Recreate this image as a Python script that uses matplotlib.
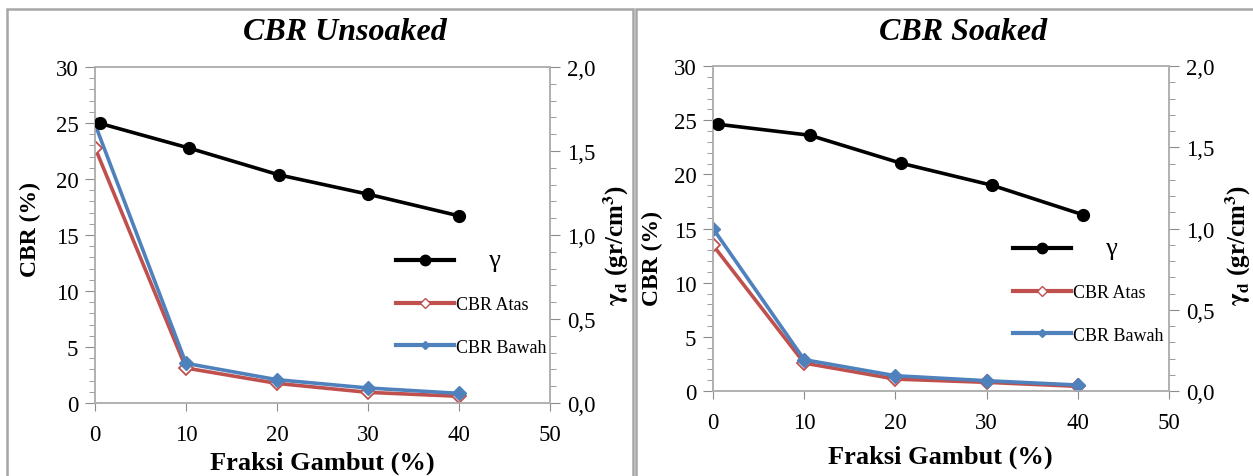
import numpy as np
import matplotlib
matplotlib.use("Agg")
import matplotlib.pyplot as plt
from matplotlib.patches import Rectangle
from matplotlib.lines import Line2D
from matplotlib.ticker import MultipleLocator, FuncFormatter

plt.rcParams['font.family'] = ['Liberation Serif', 'DejaVu Serif']
plt.rcParams['mathtext.fontset'] = 'stix'

# data
fraksi = [0, 10, 20, 30, 40]

# CBR Unsoaked
gamma_x_uns = [0.5, 10.3, 20.2, 30, 40]
gamma_uns = [1.665, 1.518, 1.358, 1.243, 1.114]
atas_uns = [22.8, 3.12, 1.75, 0.95, 0.6]
bawah_uns = [24.9, 3.54, 2.08, 1.34, 0.86]

# CBR Soaked
gamma_x_soak = [0.6, 10.6, 20.6, 30.6, 40.6]
gamma_soak = [1.641, 1.574, 1.402, 1.266, 1.084]
atas_soak = [13.46, 2.58, 1.1, 0.8, 0.43]
bawah_soak = [15.0, 2.89, 1.41, 0.95, 0.55]

W, H = 1253, 477
fig = plt.figure(figsize=(W / 100, H / 100), dpi=100)

# panel frames
fig.add_artist(Rectangle((7 / W, -0.01), 626 / W, 1 - 10 / H + 0.01, transform=fig.transFigure,
                         fill=False, edgecolor='#a6a6a6', lw=1.8))
fig.add_artist(Rectangle((636 / W, -0.01), 620 / W, 1 - 10 / H + 0.01, transform=fig.transFigure,
                         fill=False, edgecolor='#a6a6a6', lw=1.8))

red = '#C0504D'
blue = '#4F81BD'
grey = '#8c8c8c'


def panel(rect, title, gx, gy, atas, bawah, title_xy, xlab_xy, ylab_xy, y2lab_xy, leg_xy):
    ax = fig.add_axes(rect)
    ax2 = ax.twinx()
    ax.plot(fraksi, atas, color=red, lw=2.6, marker='D', ms=7, mfc='white', mec=red, mew=1.3, zorder=3)
    ax.plot(fraksi, bawah, color=blue, lw=2.6, marker='D', ms=7, mfc=blue, mec=blue, zorder=4)
    ax2.plot(gx, gy, color='black', lw=2.6, marker='o', ms=8.5, zorder=5)

    ax.set_xlim(0, 50)
    ax.set_ylim(0, 30)
    ax2.set_ylim(0, 2.0)
    ax.xaxis.set_major_locator(MultipleLocator(10))
    ax.yaxis.set_major_locator(MultipleLocator(5))
    ax.yaxis.set_minor_locator(MultipleLocator(1))
    ax2.yaxis.set_major_locator(MultipleLocator(0.5))
    ax2.yaxis.set_minor_locator(MultipleLocator(0.1))
    ax2.yaxis.set_major_formatter(FuncFormatter(lambda v, p: f"{v:.1f}".replace('.', ',')))

    for a in (ax, ax2):
        for s in a.spines.values():
            s.set_color('#b0b0b0')
            s.set_linewidth(1.2)
        a.tick_params(which='both', direction='out', color=grey, labelsize=16.5, pad=5)
        a.tick_params(which='major', length=7)
        a.tick_params(which='minor', length=4)
    ax.tick_params(axis='x', length=6, pad=9)

    handles = [Line2D([], [], color='black', lw=3, marker='o', ms=7.5),
               Line2D([], [], color=red, lw=3, marker='D', ms=5, mfc='white', mec=red),
               Line2D([], [], color=blue, lw=3, marker='D', ms=4, mfc=blue, mec=blue)]
    labels = ['     \u03b3', 'CBR Atas', 'CBR Bawah']
    leg = ax2.legend(handles, labels, loc='upper left', bbox_to_anchor=(leg_xy[0] / W, 1 - leg_xy[1] / H),
                     bbox_transform=fig.transFigure, frameon=False, fontsize=13, borderpad=0,
                     borderaxespad=0, handlelength=3.2, handletextpad=0.15, labelspacing=1.4)
    leg.get_texts()[0].set_fontsize(19)

    fig.text(title_xy[0] / W, 1 - title_xy[1] / H, title, ha='center', va='center',
             fontsize=23, fontweight='bold', style='italic')
    fig.text(xlab_xy[0] / W, 1 - xlab_xy[1] / H, 'Fraksi Gambut (%)', ha='center', va='center',
             fontsize=19, fontweight='bold')
    fig.text(ylab_xy[0] / W, 1 - ylab_xy[1] / H, 'CBR (%)', ha='center', va='center',
             fontsize=17, fontweight='bold', rotation=90)
    fig.text(y2lab_xy[0] / W, 1 - y2lab_xy[1] / H, r'$\mathbf{\gamma_d}$ (gr/cm$^\mathbf{3}$)',
             ha='center', va='center', fontsize=18, fontweight='bold', rotation=90)


panel([95 / W, 1 - 404 / H, 455 / W, 336 / H], 'CBR Unsoaked', gamma_x_uns, gamma_uns, atas_uns, bawah_uns,
      (345, 33), (322, 463), (30, 230), (616, 246), (396, 250))
panel([713 / W, 1 - 392 / H, 456 / W, 325 / H], 'CBR Soaked', gamma_x_soak, gamma_soak, atas_soak, bawah_soak,
      (963, 33), (940, 457), (652, 258), (1238, 246), (1013, 238))

fig.savefig('out.png', dpi=100)
